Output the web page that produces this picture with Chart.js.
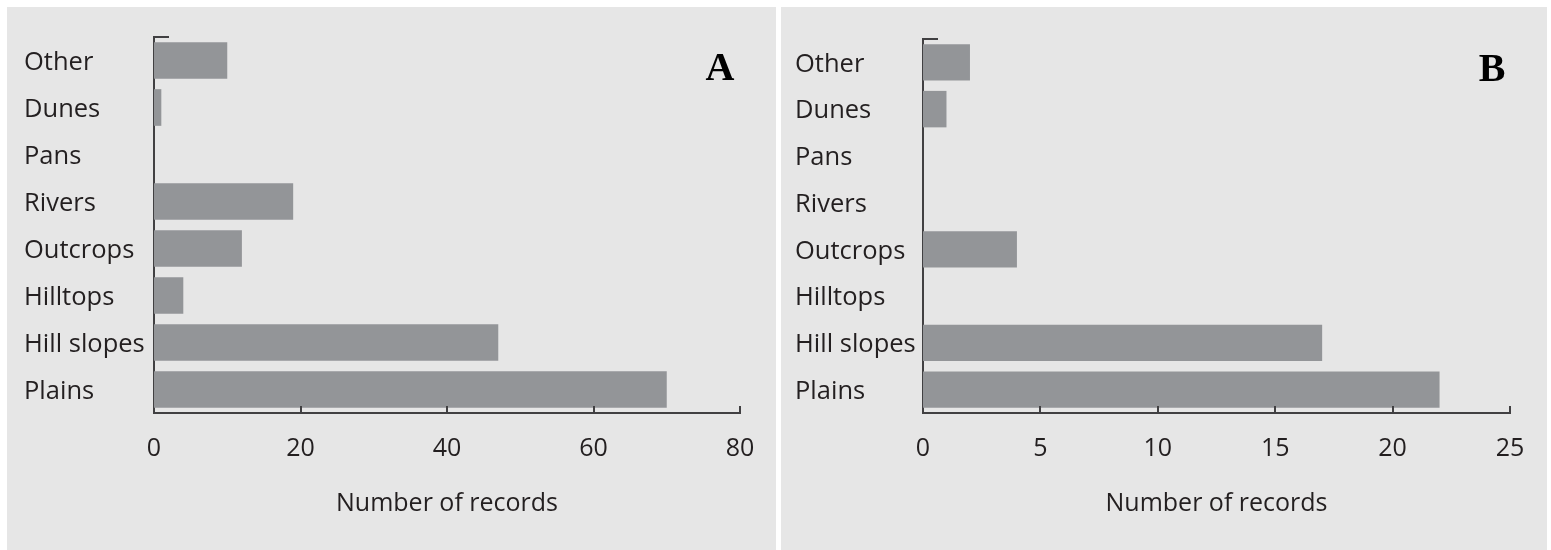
<!DOCTYPE html>
<html>
<head>
<meta charset="utf-8">
<title>Number of records by landform</title>
<script src="https://cdn.jsdelivr.net/npm/chart.js@4/dist/chart.umd.min.js"></script>
<style>
  html, body { margin: 0; padding: 0; background: #ffffff; }
  body { width: 1551px; height: 550px; position: relative; overflow: hidden; }
  .panel { position: absolute; top: 7px; height: 560px; background: #e6e6e6; }
  #panelA { left: 7px; width: 769px; }
  #panelB { left: 781px; width: 766px; }
  canvas { display: block; }
</style>
</head>
<body>
<div class="panel" id="panelA"><canvas id="chartA" width="769" height="543"></canvas></div>
<div class="panel" id="panelB"><canvas id="chartB" width="766" height="543"></canvas></div>
<script>
// Landform categories, listed top to bottom
const categories = ['Other', 'Dunes', 'Pans', 'Rivers', 'Outcrops', 'Hilltops', 'Hill slopes', 'Plains'];

// Number of records per landform
const recordsA = [10, 1, 0, 19, 12, 4, 47, 70];
const recordsB = [2, 1, 0, 0, 4, 0, 17, 22];

// Value axis ticks
const ticksA = [0, 20, 40, 60, 80];
const ticksB = [0, 5, 10, 15, 20, 25];

const axisTitle = 'Number of records';

const TEXT = '#231f20';
const AXIS = '#414042';
const BAR = '#939598';
const FONT = "'Open Sans', 'Noto Sans', sans-serif";

// Inward tick marks on the value axis, a short cap at the top of the category axis,
// and the panel letter in the top-right corner.
const axisDecor = {
  id: 'axisDecor',
  afterDraw(chart, args, opts) {
    const ctx = chart.ctx;
    const x = chart.scales.x;
    const area = chart.chartArea;
    ctx.save();
    ctx.strokeStyle = AXIS;
    ctx.lineWidth = 2;
    ctx.beginPath();
    x.ticks.forEach(t => {
      if (t.value === 0) return;
      const px = Math.round(x.getPixelForValue(t.value));
      ctx.moveTo(px, area.bottom);
      ctx.lineTo(px, area.bottom - 7);
    });
    ctx.moveTo(area.left - 1, area.top);
    ctx.lineTo(area.left + 15, area.top);
    ctx.stroke();

    ctx.fillStyle = '#000000';
    ctx.font = "bold 40px 'Liberation Serif', 'Times New Roman', serif";
    ctx.textAlign = 'center';
    ctx.textBaseline = 'alphabetic';
    ctx.fillText(opts.letter, opts.letterX, opts.letterY);
    ctx.restore();
  }
};

function makeChart(id, values, ticks, layout) {
  const maxVal = ticks[ticks.length - 1];
  const step = ticks[1] - ticks[0];
  return new Chart(document.getElementById(id), {
    type: 'bar',
    data: {
      labels: categories,
      datasets: [{
        data: values,
        backgroundColor: BAR,
        borderWidth: 0,
        categoryPercentage: 1.0,
        barPercentage: 0.78
      }]
    },
    options: {
      indexAxis: 'y',
      responsive: false,
      animation: false,
      devicePixelRatio: 1,
      layout: { padding: layout.padding },
      plugins: {
        legend: { display: false },
        tooltip: { enabled: false },
        axisDecor: { letter: layout.letter, letterX: layout.letterX, letterY: layout.letterY }
      },
      scales: {
        x: {
          type: 'linear',
          min: 0,
          max: maxVal,
          afterBuildTicks(scale) { scale.ticks = ticks.map(v => ({ value: v })); },
          ticks: {
            stepSize: step,
            color: TEXT,
            font: { family: FONT, size: 25 },
            padding: 21,
            maxRotation: 0
          },
          grid: { display: false, drawTicks: false },
          border: { display: true, color: AXIS, width: 2 },
          title: {
            display: true,
            text: axisTitle,
            color: TEXT,
            font: { family: FONT, size: 25 },
            padding: { top: 0, bottom: 31 }
          },
          afterFit(scale) { scale.height = 137; }
        },
        y: {
          type: 'category',
          ticks: {
            color: TEXT,
            font: { family: FONT, size: 25.5 },
            crossAlign: 'far',
            padding: 0,
            labelOffset: 2
          },
          grid: { display: false, drawTicks: false },
          border: { display: true, color: AXIS, width: 2 },
          afterFit(scale) { scale.width = layout.yWidth; }
        }
      }
    },
    plugins: [axisDecor]
  });
}

makeChart('chartA', recordsA, ticksA, {
  padding: { left: 17, right: 36, top: 30, bottom: 0 },
  yWidth: 130,
  letter: 'A', letterX: 713, letterY: 73
});

makeChart('chartB', recordsB, ticksB, {
  padding: { left: 14, right: 37, top: 32, bottom: 0 },
  yWidth: 128,
  letter: 'B', letterX: 711, letterY: 74
});
</script>
</body>
</html>
